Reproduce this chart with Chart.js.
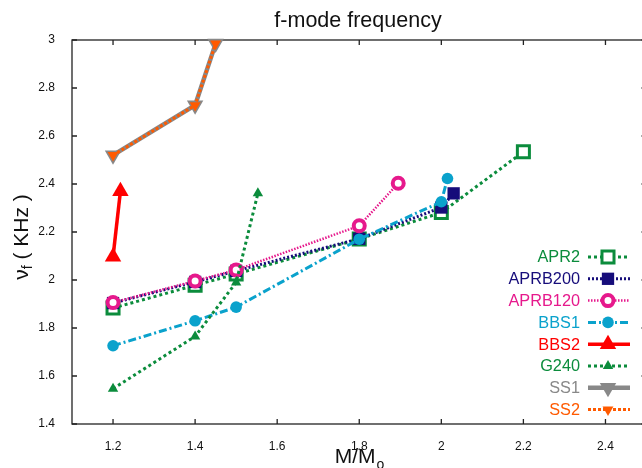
<!DOCTYPE html>
<html>
<head>
<meta charset="utf-8">
<script src="https://cdn.jsdelivr.net/npm/chart.js@4.4.1/dist/chart.umd.min.js"></script>
<style>
html, body { margin: 0; padding: 0; overflow: hidden; background: #fff; width: 642px; height: 468px; }
#wrap { position: relative; width: 642px; height: 468px; overflow: hidden; }
#chart { display: block; position: absolute; left: 0; top: 0; }
</style>
</head>
<body>
<div id="wrap"><canvas id="chart" width="658" height="468"></canvas></div>
<script>
// tick values
const xTicks = [1.2, 1.4, 1.6, 1.8, 2.0, 2.2, 2.4];
const yTicks = [1.4, 1.6, 1.8, 2.0, 2.2, 2.4, 2.6, 2.8, 3.0];

// mass (M/Msun) and f-mode frequency (kHz) per EOS
const apr2Mass = [1.2, 1.4, 1.5, 1.8, 2.0, 2.2];
const apr2Freq = [1.883, 1.978, 2.025, 2.171, 2.281, 2.534];

const aprb200Mass = [1.2, 1.4, 1.5, 1.8, 2.0, 2.03];
const aprb200Freq = [1.904, 1.992, 2.038, 2.172, 2.302, 2.361];

const aprb120Mass = [1.2, 1.4, 1.5, 1.8, 1.895];
const aprb120Freq = [1.906, 1.996, 2.042, 2.226, 2.403];

const bbs1Mass = [1.2, 1.4, 1.5, 1.8, 2.0, 2.015];
const bbs1Freq = [1.726, 1.830, 1.887, 2.170, 2.326, 2.423];

const bbs2Mass = [1.2, 1.218];
const bbs2Freq = [2.097, 2.370];

const g240Mass = [1.2, 1.4, 1.5, 1.553];
const g240Freq = [1.547, 1.765, 1.990, 2.361];

const ss1Mass = [1.2, 1.4, 1.45];
const ss1Freq = [2.520, 2.728, 2.985];

const ss2Mass = [1.2, 1.4, 1.45];
const ss2Freq = [2.520, 2.728, 2.985];

const GREEN = '#0b8c3c';
const NAVY = '#160c7a';
const PINK = '#e6198c';
const CYAN = '#0aa2cc';
const RED = '#ff0000';
const GRAY = '#888888';
const ORANGE = '#ff5a00';

function pts(xs, ys) {
    return xs.map((x, i) => ({ x: x, y: ys[i] }));
}

const datasets = [
    { label: 'APR2', data: pts(apr2Mass, apr2Freq), borderColor: GREEN, borderWidth: 3, borderDash: [3, 3],
      pointStyle: 'rect', pointRadius: 8.5, pointBorderWidth: 3, pointBorderColor: GREEN, pointBackgroundColor: '#fff' },
    { label: 'APRB200', data: pts(aprb200Mass, aprb200Freq), borderColor: NAVY, borderWidth: 3, borderDash: [2, 2],
      pointStyle: 'rect', pointRadius: 8.7, pointBorderWidth: 0, pointBorderColor: NAVY, pointBackgroundColor: NAVY },
    { label: 'APRB120', data: pts(aprb120Mass, aprb120Freq), borderColor: PINK, borderWidth: 2.5, borderDash: [1.5, 1.5],
      pointStyle: 'circle', pointRadius: 5.5, pointBorderWidth: 4, pointBorderColor: PINK, pointBackgroundColor: '#fff' },
    { label: 'BBS1', data: pts(bbs1Mass, bbs1Freq), borderColor: CYAN, borderWidth: 3, borderDash: [8, 3, 2, 3],
      pointStyle: 'circle', pointRadius: 5.8, pointBorderWidth: 0, pointBorderColor: CYAN, pointBackgroundColor: CYAN },
    { label: 'BBS2', data: pts(bbs2Mass, bbs2Freq), borderColor: RED, borderWidth: 3.5, borderDash: [],
      pointStyle: 'triangle', pointRadius: 9.5, pointBorderWidth: 0, pointBorderColor: RED, pointBackgroundColor: RED },
    { label: 'G240', data: pts(g240Mass, g240Freq), borderColor: GREEN, borderWidth: 3, borderDash: [3, 3],
      pointStyle: 'triangle', pointRadius: 6, pointBorderWidth: 0, pointBorderColor: GREEN, pointBackgroundColor: GREEN },
    { label: 'SS1', data: pts(ss1Mass, ss1Freq), borderColor: GRAY, borderWidth: 4.5, borderDash: [],
      pointStyle: 'triangle', pointRotation: 180, pointRadius: 9.5, pointBorderWidth: 0, pointBorderColor: GRAY, pointBackgroundColor: GRAY },
    { label: 'SS2', data: pts(ss2Mass, ss2Freq), borderColor: ORANGE, borderWidth: 3, borderDash: [3, 2],
      pointStyle: 'triangle', pointRotation: 180, pointRadius: 6.3, pointBorderWidth: 0, pointBorderColor: ORANGE, pointBackgroundColor: ORANGE }
];

// later series drawn on top, like the original
datasets.forEach((d, i) => {
    d.order = datasets.length - i;
    d.showLine = true;
    d.fill = false;
    d.clip = false;
    d.tension = 0;
});

const FONT = '"Liberation Sans", Arial, Helvetica, sans-serif';
const fmt = v => String(Math.round(v * 10) / 10);

const framePlugin = {
    id: 'frame',
    beforeDatasetsDraw(chart) {
        const { ctx, chartArea: a, scales } = chart;
        ctx.save();
        ctx.strokeStyle = '#222';
        ctx.lineWidth = 1.3;
        ctx.strokeRect(a.left, a.top, a.right - a.left, a.bottom - a.top);
        ctx.beginPath();
        xTicks.forEach(v => {
            const x = scales.x.getPixelForValue(v);
            ctx.moveTo(x, a.bottom); ctx.lineTo(x, a.bottom - 5);
            ctx.moveTo(x, a.top); ctx.lineTo(x, a.top + 5);
        });
        yTicks.forEach(v => {
            const y = scales.y.getPixelForValue(v);
            ctx.moveTo(a.left, y); ctx.lineTo(a.left + 5, y);
            ctx.moveTo(a.right, y); ctx.lineTo(a.right - 5, y);
        });
        ctx.stroke();
        ctx.restore();
    },
    afterDraw(chart) {
        const { ctx, chartArea: a } = chart;
        ctx.save();
        ctx.fillStyle = '#111';

        // title
        ctx.font = '21.5px ' + FONT;
        ctx.textAlign = 'center';
        ctx.textBaseline = 'alphabetic';
        ctx.fillText('f-mode frequency', 358, 27);

        // x axis title M/Mo
        ctx.font = '21px ' + FONT;
        const main = 'M/M';
        ctx.textAlign = 'left';
        const wMain = ctx.measureText(main).width;
        ctx.font = '14px ' + FONT;
        const wSub = ctx.measureText('o').width;
        let x0 = 359 - (wMain + wSub) / 2;
        ctx.font = '21px ' + FONT;
        ctx.fillText(main, x0, 463);
        ctx.font = '14px ' + FONT;
        ctx.fillText('o', x0 + wMain + 1, 469);

        // y axis title
        ctx.translate(28, 237);
        ctx.rotate(-Math.PI / 2);
        ctx.font = '21px ' + FONT;
        const nu = '\u03bd', rest = ' ( KHz )';
        const wNu = ctx.measureText(nu).width;
        const wRest = ctx.measureText(rest).width;
        ctx.font = '14px ' + FONT;
        const wF = ctx.measureText('f').width;
        let s = -(wNu + wF + wRest) / 2;
        ctx.font = '21px ' + FONT;
        ctx.fillText(nu, s, 0);
        ctx.font = '14px ' + FONT;
        ctx.fillText('f', s + wNu, 4);
        ctx.font = '21px ' + FONT;
        ctx.fillText(rest, s + wNu + wF, 0);
        ctx.setTransform(1, 0, 0, 1, 0, 0);

        // legend
        const textX = 580, lx0 = 588, lx1 = 630, mx = 608, y0 = 257, step = 21.8;
        ctx.font = '16.3px ' + FONT;
        ctx.textAlign = 'right';
        ctx.textBaseline = 'middle';
        chart.data.datasets.forEach((d, i) => {
            const y = y0 + i * step;
            ctx.fillStyle = d.borderColor;
            ctx.fillText(d.label, textX, y + 1);
            ctx.strokeStyle = d.borderColor;
            ctx.lineWidth = d.borderWidth;
            ctx.setLineDash(d.borderDash);
            ctx.beginPath();
            ctx.moveTo(lx0, y); ctx.lineTo(lx1, y);
            ctx.stroke();
            ctx.setLineDash([]);
            ctx.fillStyle = d.pointBackgroundColor;
            ctx.strokeStyle = d.pointBorderColor;
            ctx.lineWidth = d.pointBorderWidth;
            Chart.helpers.drawPoint(ctx, {
                pointStyle: d.pointStyle,
                rotation: d.pointRotation || 0,
                radius: d.pointRadius,
                borderWidth: d.pointBorderWidth
            }, mx, y);
        });
        ctx.restore();
    }
};

new Chart(document.getElementById('chart'), {
    type: 'scatter',
    data: { datasets: datasets },
    options: {
        responsive: false,
        animation: false,
        layout: { padding: { top: 40, right: 5, bottom: 0, left: 0 } },
        plugins: { legend: { display: false }, tooltip: { enabled: false }, title: { display: false } },
        scales: {
            x: {
                type: 'linear', min: 1.1, max: 2.5,
                afterBuildTicks: s => { s.ticks = xTicks.map(v => ({ value: v })); },
                afterFit: s => { s.height = 44; s.paddingLeft = 0; s.paddingRight = 0; },
                grid: { display: false },
                border: { display: false },
                ticks: { padding: 7, autoSkip: false, maxRotation: 0, color: '#111',
                         font: { family: FONT, size: 12 }, callback: v => fmt(v) }
            },
            y: {
                type: 'linear', min: 1.4, max: 3.0,
                afterBuildTicks: s => { s.ticks = yTicks.map(v => ({ value: v })); },
                afterFit: s => { s.width = 72; s.paddingTop = 0; s.paddingBottom = 0; },
                grid: { display: false },
                border: { display: false },
                ticks: { padding: 9, autoSkip: false, color: '#111',
                         font: { family: FONT, size: 12 }, callback: v => fmt(v) }
            }
        }
    },
    plugins: [framePlugin]
});
</script>
</body>
</html>
